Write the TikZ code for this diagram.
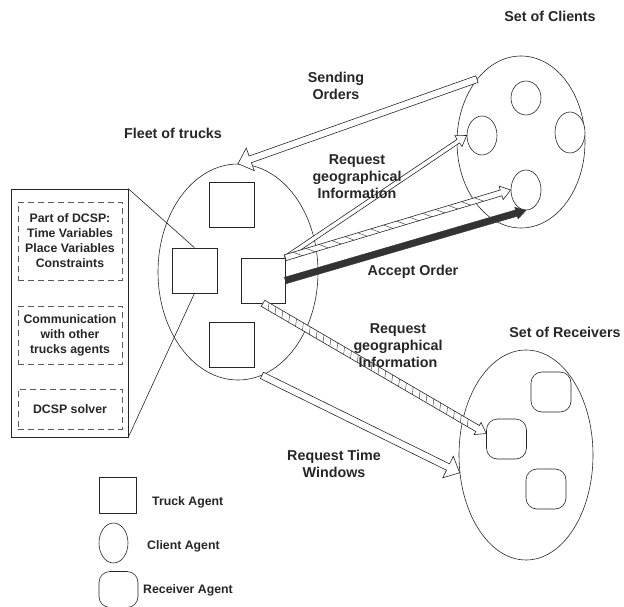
\documentclass[tikz,border=0pt]{standalone}
\usepackage{fontspec}
\setmainfont{Liberation Sans}
\usetikzlibrary{shapes.geometric,calc}
\newcommand{\blockarr}[6]{%
  \coordinate (baS) at (#1);
  \coordinate (baE) at (#2);
  \coordinate (baH) at ($(baE)!#5!(baS)$);
  \draw[#6] ($(baS)!#3!90:(baE)$) -- ($(baH)!#3!90:(baE)$) -- ($(baH)!#4!90:(baE)$) -- (baE)
    -- ($(baH)!#4!-90:(baE)$) -- ($(baH)!#3!-90:(baE)$) -- ($(baS)!#3!-90:(baE)$) -- cycle;
}
\newcommand{\hatchlines}[3]{%
  \foreach \t in {#2} {
    \draw[ln, line width=0.4pt] ($(baS)!\t!(baH)!#1!90:(baH)$) -- ($(baS)!\t+#3!(baH)!#1!-90:(baH)$);
  }
}
\tikzset{
  ln/.style={draw=black!85, line width=0.6pt},
  ell/.style={ellipse, ln, inner sep=0pt, fill=white},
  sqr/.style={rectangle, ln, inner sep=0pt, fill=white},
  rsq/.style={rectangle, rounded corners=11pt, ln, inner sep=0pt, fill=white},
  hollow/.style={ln, fill=white, line join=miter},
  darkarr/.style={draw=black!80, fill=black!80, line width=0.4pt},
  lbl/.style={font=\bfseries\fontsize{14.3}{17}\selectfont, align=center, text=black!85, inner sep=0pt},
  small/.style={font=\bfseries\fontsize{12.3}{15}\selectfont, align=center, text=black!85, inner sep=0pt},
  dbox/.style={rectangle, draw=black!65, line width=0.6pt, dash pattern=on 6pt off 4pt, minimum width=104, inner sep=0pt, small}
}
\begin{document}
\begin{tikzpicture}[x=1pt,y=-1pt]
\useasboundingbox (0,0) rectangle (624,607);
% fleet
\node[ell, minimum width=160, minimum height=216] (fleet) at (238,272) {};
\node[sqr, minimum width=45, minimum height=45] (sq1) at (231.5,204.5) {};
\node[sqr, minimum width=45, minimum height=45] (sq2) at (194.5,270.5) {};
\node[sqr, minimum width=44, minimum height=45] (sq3) at (263,280.5) {};
\node[sqr, minimum width=45, minimum height=45] (sq4) at (231.5,344.5) {};
% panel
\node[rectangle, ln, minimum width=117, minimum height=248, inner sep=0pt] (panel) at (69.5,313) {};
\node[dbox, minimum height=78] (d1) at (70,241) {Part of DCSP:\\Time Variables\\Place Variables\\Constraints};
\node[dbox, minimum height=58] (d2) at (70,335) {Communication\\with other\\trucks agents};
\node[dbox, minimum height=40] (d3) at (70,409) {DCSP solver};
\draw[ln] (panel.north east) -- (sq2.north);
\draw[ln] (panel.south east) -- (sq2.south);
% clients
\node[ell, minimum width=128, minimum height=172] (clients) at (521,142) {};
\node[ell, minimum width=30, minimum height=34] (c1) at (526,98) {};
\node[ell, minimum width=30, minimum height=39] (c2) at (482,135.5) {};
\node[ell, minimum width=30, minimum height=41] (c3) at (570,132.5) {};
\node[ell, minimum width=30, minimum height=40] (c4) at (526,190) {};
% receivers
\node[ell, minimum width=134, minimum height=210] (receivers) at (526,455) {};
\node[rsq, minimum width=40, minimum height=40] (r1) at (551,392) {};
\node[rsq, minimum width=40, minimum height=40] (r2) at (506.5,439) {};
\node[rsq, minimum width=40, minimum height=40] (r3) at (546,489) {};
% legend
\node[sqr, minimum width=37, minimum height=36] (lsq) at (117.5,495) {};
\node[ell, minimum width=29, minimum height=40] (lcl) at (113.5,543) {};
\node[rsq, minimum width=39, minimum height=36] (lrc) at (118.5,589.5) {};
% arrows
\blockarr{clients.125}{fleet.north}{3.5pt}{12pt}{13pt}{hollow}
\blockarr{fleet.-77}{receivers.195}{3.5pt}{12pt}{13pt}{hollow}
\blockarr{sq3.north east}{c2.west}{2.2pt}{6.5pt}{10pt}{hollow}
\blockarr{sq3.north east}{c4.west}{3pt}{7pt}{10pt}{hollow}
\hatchlines{3pt}{0.04,0.1,...,0.92}{0.035}
\blockarr{sq3.east}{c4.south}{3.3pt}{6pt}{10pt}{darkarr}
\blockarr{sq3.south}{r2.165}{3.5pt}{7pt}{10pt}{hollow}
\hatchlines{3.5pt}{0.02,0.052,...,0.97}{0.012}
% labels
\node[lbl] (tclients) at (550,16) {Set of Clients};
\node[lbl] (tfleet) at (173,133) {Fleet of trucks};
\node[lbl] (tsend) at (336,86) {Sending\\Orders};
\node[lbl] (tgeo1) at (357,177) {Request\\geographical\\Information};
\node[lbl] (taccept) at (413,272) {Accept Order};
\node[lbl] (tgeo2) at (398,346) {Request\\geographical\\Information};
\node[lbl] (trecv) at (565,332) {Set of Receivers};
\node[lbl] (ttime) at (334,464) {Request Time\\Windows};
\node[small, anchor=west] (ltruck) at (152,502) {Truck Agent};
\node[small, anchor=west] (lclient) at (147,546) {Client Agent};
\node[small, anchor=west] (lrecv) at (143,590) {Receiver Agent};
\end{tikzpicture}
\end{document}
